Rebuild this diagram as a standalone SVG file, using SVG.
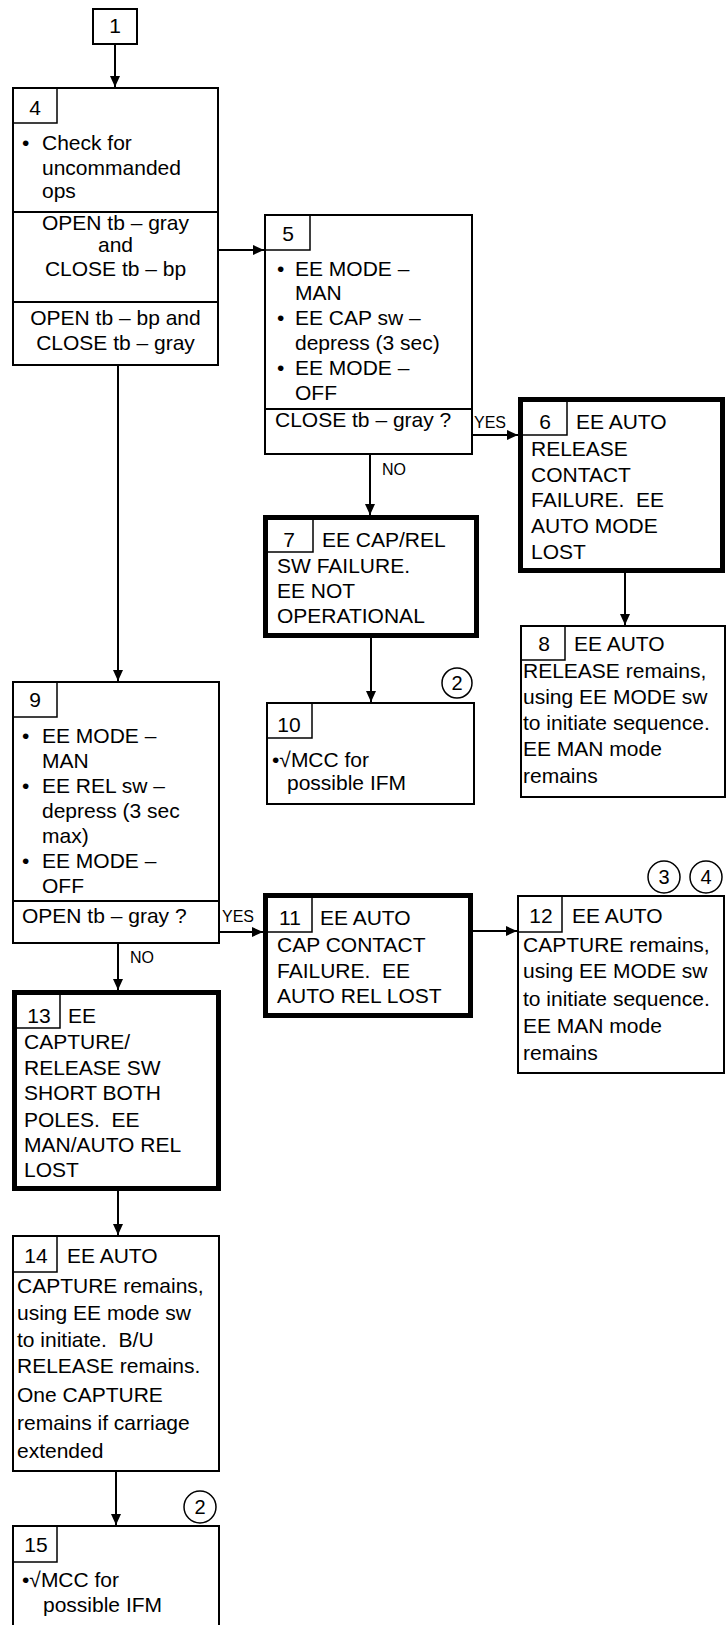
<svg xmlns="http://www.w3.org/2000/svg" width="726" height="1625" viewBox="0 0 726 1625" xml:space="preserve">
<style>
text{font-family:"Liberation Sans",Arial,sans-serif;font-size:21px;fill:#000;white-space:pre}
.box{fill:#fff;stroke:#000;stroke-width:2}
.thick{fill:#fff;stroke:#000;stroke-width:5}
.cell{fill:none;stroke:#000;stroke-width:1.5}
.div{stroke:#000;stroke-width:2}
.c{stroke:#000;stroke-width:2;fill:none;marker-end:url(#ah)}
.lbl{font-size:16px}
.mid{text-anchor:middle}
.circ{fill:#fff;stroke:#000;stroke-width:1.5}
.cn{font-size:20px;text-anchor:middle}
</style>
<defs>
<marker id="ah" markerUnits="userSpaceOnUse" markerWidth="12" markerHeight="10" refX="11" refY="5" orient="auto">
<path d="M0,0 L11,5 L0,10 z" fill="#000"/>
</marker>
</defs>

<g id="connectors">
<line class="c" x1="115" y1="44" x2="115" y2="87"/>
<line class="c" x1="219" y1="250" x2="264" y2="250"/>
<line class="c" x1="118" y1="365" x2="118" y2="681"/>
<line class="c" x1="473" y1="435" x2="518" y2="435"/>
<text class="lbl" x="474" y="428">YES</text>
<line class="c" x1="370" y1="454" x2="370" y2="515"/>
<text class="lbl" x="382" y="475">NO</text>
<line class="c" x1="625" y1="573" x2="625" y2="625"/>
<line class="c" x1="371" y1="638" x2="371" y2="702"/>
<line class="c" x1="220" y1="932" x2="263" y2="932"/>
<text class="lbl" x="222" y="922">YES</text>
<line class="c" x1="118" y1="943" x2="118" y2="990"/>
<text class="lbl" x="130" y="963">NO</text>
<line class="c" x1="473" y1="931" x2="517" y2="931"/>
<line class="c" x1="118" y1="1191" x2="118" y2="1235"/>
<line class="c" x1="116" y1="1471" x2="116" y2="1525"/>
</g>

<g id="node1">
<rect class="box" x="93" y="9" width="44" height="35"/>
<text class="mid" x="115" y="33">1</text>
</g>

<g id="node4">
<rect class="box" x="13" y="88" width="205" height="277"/>
<rect class="cell" x="13" y="88" width="44" height="35"/>
<text class="mid" x="35" y="115">4</text>
<text x="22" y="150">•</text>
<text x="42" y="150">Check for</text>
<text x="42" y="175">uncommanded</text>
<text x="42" y="198">ops</text>
<line class="div" x1="13" y1="212" x2="218" y2="212"/>
<text class="mid" x="115.5" y="230">OPEN tb – gray</text>
<text class="mid" x="115.5" y="252">and</text>
<text class="mid" x="115.5" y="276">CLOSE tb – bp</text>
<line class="div" x1="13" y1="302" x2="218" y2="302"/>
<text class="mid" x="115.5" y="325">OPEN tb – bp and</text>
<text class="mid" x="115.5" y="350">CLOSE tb – gray</text>
</g>

<g id="node5">
<rect class="box" x="265" y="215" width="207" height="239"/>
<rect class="cell" x="265" y="215" width="45" height="35"/>
<text class="mid" x="288" y="241">5</text>
<text x="277" y="276">•</text>
<text x="295" y="276">EE MODE –</text>
<text x="295" y="300">MAN</text>
<text x="277" y="325">•</text>
<text x="295" y="325">EE CAP sw –</text>
<text x="295" y="350">depress (3 sec)</text>
<text x="277" y="375">•</text>
<text x="295" y="375">EE MODE –</text>
<text x="295" y="400">OFF</text>
<line class="div" x1="265" y1="409" x2="472" y2="409"/>
<text x="275" y="427">CLOSE tb – gray ?</text>
</g>

<g id="node6">
<rect class="thick" x="520.5" y="399.5" width="202" height="171"/>
<rect class="cell" x="520.5" y="399.5" width="46.5" height="35.5"/>
<text class="mid" x="545" y="429">6</text>
<text x="576" y="429">EE AUTO</text>
<text x="531" y="456">RELEASE</text>
<text x="531" y="482">CONTACT</text>
<text x="531" y="507">FAILURE.  EE</text>
<text x="531" y="533">AUTO MODE</text>
<text x="531" y="559">LOST</text>
</g>

<g id="node7">
<rect class="thick" x="265.5" y="517.5" width="211" height="118"/>
<rect class="cell" x="265.5" y="517.5" width="47.5" height="34.5"/>
<text class="mid" x="289" y="547">7</text>
<text x="322" y="547">EE CAP/REL</text>
<text x="277" y="573">SW FAILURE.</text>
<text x="277" y="598">EE NOT</text>
<text x="277" y="623">OPERATIONAL</text>
</g>

<g id="node8">
<rect class="box" x="521" y="626" width="204" height="171"/>
<rect class="cell" x="521" y="626" width="44" height="34"/>
<text class="mid" x="544" y="651">8</text>
<text x="574" y="651">EE AUTO</text>
<text x="523" y="678">RELEASE remains,</text>
<text x="523" y="704">using EE MODE sw</text>
<text x="523" y="730">to initiate sequence.</text>
<text x="523" y="756">EE MAN mode</text>
<text x="523" y="783">remains</text>
</g>

<g id="node9">
<rect class="box" x="13" y="682" width="206" height="261"/>
<rect class="cell" x="13" y="682" width="44" height="35"/>
<text class="mid" x="35" y="707">9</text>
<text x="22" y="743">•</text>
<text x="42" y="743">EE MODE –</text>
<text x="42" y="768">MAN</text>
<text x="22" y="793">•</text>
<text x="42" y="793">EE REL sw –</text>
<text x="42" y="818">depress (3 sec</text>
<text x="42" y="843">max)</text>
<text x="22" y="868">•</text>
<text x="42" y="868">EE MODE –</text>
<text x="42" y="893">OFF</text>
<line class="div" x1="13" y1="901" x2="219" y2="901"/>
<text x="22" y="923">OPEN tb – gray ?</text>
</g>

<g id="node10">
<rect class="box" x="267" y="703" width="207" height="101"/>
<rect class="cell" x="267" y="703" width="45" height="35"/>
<text class="mid" x="289" y="732">10</text>
<text x="272" y="767">•√MCC for</text>
<text x="287" y="790">possible IFM</text>
<circle class="circ" cx="457" cy="683" r="15"/>
<text class="cn" x="457" y="690">2</text>
</g>

<g id="node11">
<rect class="thick" x="265.5" y="895.5" width="205" height="120"/>
<rect class="cell" x="265.5" y="895.5" width="46.5" height="36.5"/>
<text class="mid" x="290" y="925">11</text>
<text x="320" y="925">EE AUTO</text>
<text x="277" y="952">CAP CONTACT</text>
<text x="277" y="978">FAILURE.  EE</text>
<text x="277" y="1003">AUTO REL LOST</text>
</g>

<g id="node12">
<rect class="box" x="518" y="896" width="206" height="177"/>
<rect class="cell" x="518" y="896" width="44" height="36"/>
<text class="mid" x="541" y="923">12</text>
<text x="572" y="923">EE AUTO</text>
<text x="523" y="952">CAPTURE remains,</text>
<text x="523" y="978">using EE MODE sw</text>
<text x="523" y="1006">to initiate sequence.</text>
<text x="523" y="1033">EE MAN mode</text>
<text x="523" y="1060">remains</text>
<circle class="circ" cx="664" cy="877" r="16"/>
<text class="cn" x="664" y="884">3</text>
<circle class="circ" cx="706" cy="877" r="16"/>
<text class="cn" x="706" y="884">4</text>
</g>

<g id="node13">
<rect class="thick" x="14.5" y="992.5" width="204" height="196"/>
<rect class="cell" x="14.5" y="992.5" width="45.5" height="35.5"/>
<text class="mid" x="39" y="1023">13</text>
<text x="68" y="1023">EE</text>
<text x="24" y="1049">CAPTURE/</text>
<text x="24" y="1075">RELEASE SW</text>
<text x="24" y="1100">SHORT BOTH</text>
<text x="24" y="1127">POLES.  EE</text>
<text x="24" y="1152">MAN/AUTO REL</text>
<text x="24" y="1177">LOST</text>
</g>

<g id="node14">
<rect class="box" x="13" y="1236" width="206" height="235"/>
<rect class="cell" x="13" y="1236" width="44" height="36"/>
<text class="mid" x="36" y="1263">14</text>
<text x="67" y="1263">EE AUTO</text>
<text x="17" y="1293">CAPTURE remains,</text>
<text x="17" y="1320">using EE mode sw</text>
<text x="17" y="1347">to initiate.  B/U</text>
<text x="17" y="1373">RELEASE remains.</text>
<text x="17" y="1402">One CAPTURE</text>
<text x="17" y="1430">remains if carriage</text>
<text x="17" y="1458">extended</text>
</g>

<g id="node15">
<rect class="box" x="13" y="1526" width="206" height="120"/>
<rect class="cell" x="13" y="1526" width="44" height="36"/>
<text class="mid" x="36" y="1552">15</text>
<text x="22" y="1587">•√MCC for</text>
<text x="43" y="1612">possible IFM</text>
<circle class="circ" cx="200" cy="1507" r="16"/>
<text class="cn" x="200" y="1514">2</text>
</g>
</svg>
